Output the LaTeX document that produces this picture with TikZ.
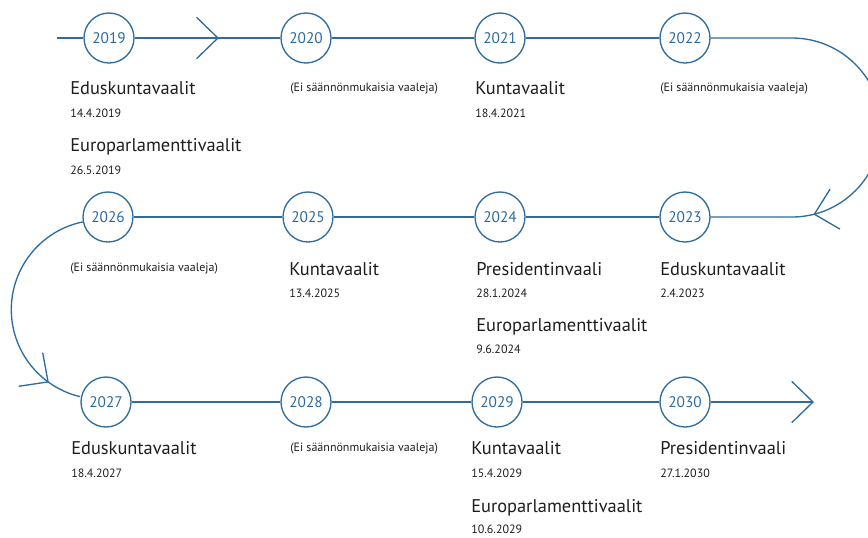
\documentclass[tikz,border=0pt]{standalone}
\usepackage{fontspec}
\setmainfont{PT Sans}
\usetikzlibrary{arrows.meta, decorations.markings}
\definecolor{vaalisini}{HTML}{2F6C9E}
\definecolor{tekstimusta}{HTML}{1E1E1E}

\begin{document}
\begin{tikzpicture}[
  x=0.75pt, y=-0.75pt,
  vuosi/.style={
    circle, draw=vaalisini, line width=1pt, fill=white,
    minimum size=37.5pt, inner sep=0pt,
    text=vaalisini, font=\fontsize{11.5}{12}\selectfont
  },
  vaali/.style={anchor=base west, inner sep=0pt, text=tekstimusta,
    font=\fontsize{13.8}{14}\selectfont},
  pvm/.style={anchor=base west, inner sep=0pt, text=tekstimusta,
    font=\fontsize{9}{10}\selectfont},
  eivaal/.style={pvm},
  jana/.style={draw=vaalisini, line width=1pt},
  karki/.style={-{Straight Barb[length=16pt, width=31pt]}},
  karki at/.style={postaction={decorate, decoration={markings,
    mark=at position #1 with {\arrow{Straight Barb[length=16pt, width=31pt]}}}}}
]
  \useasboundingbox (0,0) rectangle (868,537);

  % vuosipallot
  \node[vuosi] (y2019) at (109,38)  {2019};
  \node[vuosi] (y2020) at (306,38)  {2020};
  \node[vuosi] (y2021) at (500,38)  {2021};
  \node[vuosi] (y2022) at (685,38)  {2022};
  \node[vuosi] (y2026) at (108,217) {2026};
  \node[vuosi] (y2025) at (308,217) {2025};
  \node[vuosi] (y2024) at (500,217) {2024};
  \node[vuosi] (y2023) at (685,217) {2023};
  \node[vuosi] (y2027) at (106,402) {2027};
  \node[vuosi] (y2028) at (306,402) {2028};
  \node[vuosi] (y2029) at (497,402) {2029};
  \node[vuosi] (y2030) at (685,402) {2030};

  % vaalit
  \node[vaali] (t2019a) at (70,94)    {Eduskuntavaalit};
  \node[pvm]   (d2019a) at (70,117.5) {14.4.2019};
  \node[vaali] (t2019b) at (70,151)   {Europarlamenttivaalit};
  \node[pvm]   (d2019b) at (70,174)   {26.5.2019};
  \node[eivaal] (e2020) at (290,91)   {(Ei säännönmukaisia vaaleja)};
  \node[vaali] (t2021)  at (475,94)   {Kuntavaalit};
  \node[pvm]   (d2021)  at (475,117.5) {18.4.2021};
  \node[eivaal] (e2022) at (660,91)   {(Ei säännönmukaisia vaaleja)};

  \node[eivaal] (e2026) at (70,271)   {(Ei säännönmukaisia vaaleja)};
  \node[vaali] (t2025)  at (289,275)  {Kuntavaalit};
  \node[pvm]   (d2025)  at (289,297)  {13.4.2025};
  \node[vaali] (t2024a) at (476,275)  {Presidentinvaali};
  \node[pvm]   (d2024a) at (476,297)  {28.1.2024};
  \node[vaali] (t2024b) at (476,331.5) {Europarlamenttivaalit};
  \node[pvm]   (d2024b) at (476,353)  {9.6.2024};
  \node[vaali] (t2023)  at (660,275)  {Eduskuntavaalit};
  \node[pvm]   (d2023)  at (660,297)  {2.4.2023};

  \node[vaali] (t2027)  at (71,454)   {Eduskuntavaalit};
  \node[pvm]   (d2027)  at (71,477)   {18.4.2027};
  \node[eivaal] (e2028) at (290,451)  {(Ei säännönmukaisia vaaleja)};
  \node[vaali] (t2029a) at (471,454)  {Kuntavaalit};
  \node[pvm]   (d2029a) at (471,477)  {15.4.2029};
  \node[vaali] (t2029b) at (471,512)  {Europarlamenttivaalit};
  \node[pvm]   (d2029b) at (471,533)  {10.6.2029};
  \node[vaali] (t2030)  at (660,454)  {Presidentinvaali};
  \node[pvm]   (d2030)  at (660,477)  {27.1.2030};

  % aikajana
  \coordinate (alku) at (57,38);
  \coordinate (kaannos) at (792,38);
  \coordinate (loppu) at (814,402);

  \draw[jana] (alku) -- (y2019);
  \draw[jana, karki at=0.578] (y2019) -- (y2020);
  \draw[jana] (y2020) -- (y2021);
  \draw[jana] (y2021) -- (y2022);
  \draw[jana, karki at=0.768] (y2022) -- (kaannos)
    arc[start angle=-90, end angle=90, radius=89.5] -- (y2023);
  \draw[jana] (y2023) -- (y2024);
  \draw[jana] (y2024) -- (y2025);
  \draw[jana] (y2025) -- (y2026);
  \draw[jana, karki at=0.858] (y2026.191)
    arc[start angle=258.4, end angle=103.5, radius=89.5];
  \draw[jana] (y2027) -- (y2028);
  \draw[jana] (y2028) -- (y2029);
  \draw[jana] (y2029) -- (y2030);
  \draw[jana, karki] (y2030) -- (loppu);
\end{tikzpicture}
\end{document}
